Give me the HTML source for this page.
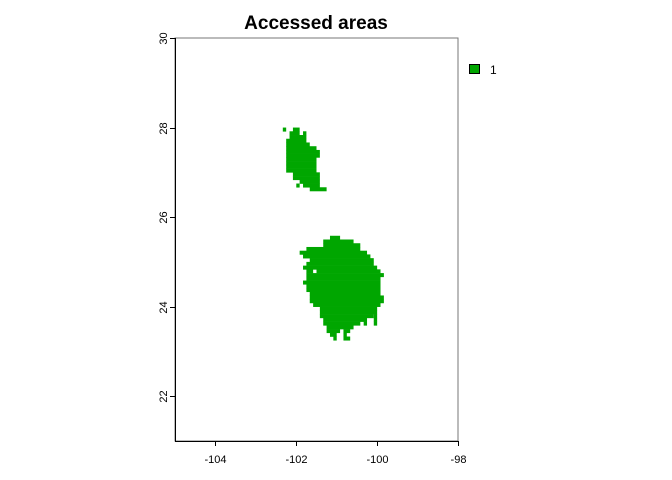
<!DOCTYPE html>
<html><head><meta charset="utf-8"><style>
body{margin:0;background:#fff;}
svg{display:block;font-family:"Liberation Sans",sans-serif;}
</style></head><body>
<svg id="chart" width="672" height="480" viewBox="0 0 672 480" xmlns="http://www.w3.org/2000/svg">
<text x="316" y="29" text-anchor="middle" font-size="19" font-weight="bold">Accessed areas</text>
<g id="cells"></g>
<rect x="175" y="38" width="283" height="403" fill="none" stroke="#777" stroke-width="1"/>
<g id="axes"></g>
<g>
<rect x="469.5" y="64.5" width="10" height="9" fill="#00A600" stroke="#000" stroke-width="1"/>
<text x="490" y="74" font-size="12">1</text>
</g>
</svg>
<script>
// grid: 1/12 degree cells, col from lon -105, row from lat 30
const cellSize = 1/12;
const xTicks = [-104, -102, -100, -98];
const yTicks = [22, 24, 26, 28, 30];
// rows of the raster: [rowIndex, colStart, colEnd)
const smallPatch = [
 [24,32,33],[24,35,37],[25,34,37],[25,38,39],[26,34,39],[27,33,39],[28,33,40],[29,33,42],
 [30,33,43],[31,33,43],[32,33,42],[33,33,42],[34,33,42],[35,33,42],[36,35,43],[37,35,43],
 [38,37,43],[39,36,37],[39,38,43],[40,40,45]
];
const largePatch = [
 [53,46,49],[54,44,53],[55,44,55],[56,39,55],[57,37,57],[58,38,58],[59,40,59],[60,39,59],
 [61,38,60],[62,39,41],[62,42,61],[63,39,62],[64,39,61],[65,38,61],[66,39,61],[67,39,61],
 [68,40,61],[69,40,62],[70,40,62],[71,41,61],[72,43,60],[73,43,60],[74,43,59],[74,59,60],
 [75,44,57],[75,59,60],[76,44,55],[76,56,57],[76,59,60],[77,45,53],[78,45,49],[78,50,52],
 [79,46,48],[79,50,51],[80,47,48],[80,50,52]
];
const X0=175,X1=458,Y0=38,Y1=441;
const lonMin=-105,lonMax=-98,latMin=21,latMax=30;
const sx=lon=>X0+(lon-lonMin)/(lonMax-lonMin)*(X1-X0);
const sy=lat=>Y0+(latMax-lat)/(latMax-latMin)*(Y1-Y0);
const NS="http://www.w3.org/2000/svg";
const cells=document.getElementById('cells');
[smallPatch,largePatch].forEach((patch,pi)=>{
 patch.forEach(r=>{
  const lat=latMax-r[0]*cellSize, lonA=lonMin+r[1]*cellSize, lonB=lonMin+r[2]*cellSize;
  const el=document.createElementNS(NS,'rect');
  
  
  el.setAttribute('x',sx(lonA));el.setAttribute('y',sy(lat));
  el.setAttribute('width',sx(lonB)-sx(lonA));el.setAttribute('height',sy(lat-cellSize)-sy(lat)+0.3);
  el.setAttribute('fill','#00A600');
  cells.appendChild(el);
 });
});
const ax=document.getElementById('axes');
function line(x1,y1,x2,y2){const l=document.createElementNS(NS,'line');l.setAttribute('x1',x1);l.setAttribute('y1',y1);l.setAttribute('x2',x2);l.setAttribute('y2',y2);l.setAttribute('stroke','#000');ax.appendChild(l);return l;}
const xl=line(X0,Y1+0.5,X1,Y1+0.5);


const yl=line(X0+0.5,Y0,X0+0.5,Y1);


xTicks.forEach(v=>{
 const x=Math.round(sx(v))+0.5;
 const t=line(x,Y1,x,Y1+5);
 
 
 const tx=document.createElementNS(NS,'text');
 
 
 tx.setAttribute('x',x);tx.setAttribute('y',Y1+22);tx.setAttribute('text-anchor','middle');tx.setAttribute('font-size','11');
 tx.textContent=v;ax.appendChild(tx);
});
yTicks.forEach(v=>{
 const y=Math.round(sy(v))+0.5;
 const t=line(X0-5,y,X0,y);
 
 
 const tx=document.createElementNS(NS,'text');
 
 
 tx.setAttribute('transform','translate(167,'+y+') rotate(-90)');tx.setAttribute('text-anchor','middle');tx.setAttribute('font-size','11');
 tx.textContent=v;ax.appendChild(tx);
});
</script>
</body></html>
